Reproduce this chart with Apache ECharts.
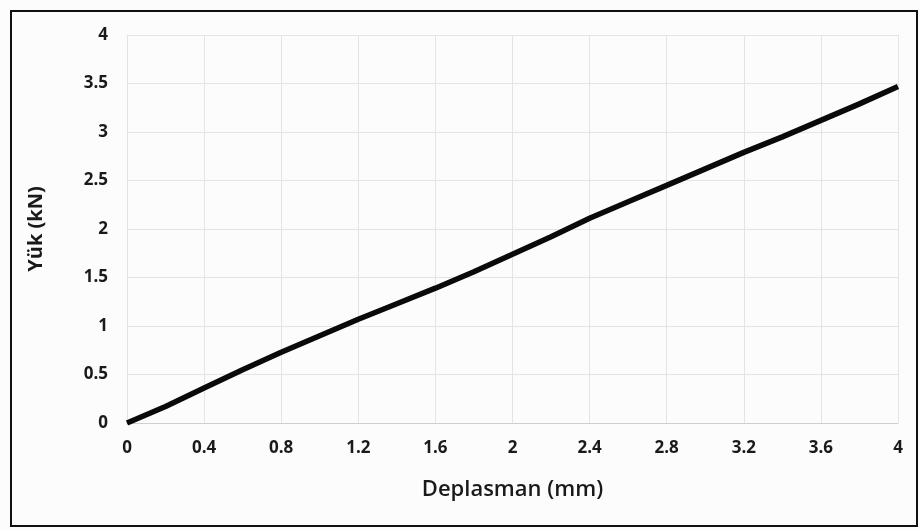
<!DOCTYPE html>
<html>
<head>
<meta charset="utf-8">
<script src="https://cdn.jsdelivr.net/npm/echarts@6/dist/echarts.min.js"></script>
<style>
  html, body { margin: 0; padding: 0; background: #fff; }
  #chart { width: 920px; height: 530px; }
</style>
</head>
<body>
<div id="chart"></div>
<script>
// displacement (mm) and load (kN)
const deplasman = [0, 0.2, 0.4, 0.6, 0.8, 1.0, 1.2, 1.4, 1.6, 1.8, 2.0, 2.2, 2.4, 2.6, 2.8, 3.0, 3.2, 3.4, 3.6, 3.8, 4.0]
const yuk = [0, 0.17, 0.36, 0.55, 0.73, 0.9, 1.07, 1.23, 1.39, 1.56, 1.74, 1.92, 2.11, 2.28, 2.45, 2.62, 2.79, 2.95, 3.12, 3.29, 3.47]

const chart = echarts.init(document.getElementById('chart'))
const labelFont = { color: '#1a1a1a', fontFamily: 'Open Sans', fontWeight: 'bold', fontSize: 17 }

chart.setOption({
  animation: false,
  backgroundColor: '#fcfcfc',
  graphic: [{
    type: 'rect',
    shape: { x: 11, y: 11, width: 906, height: 515 },
    style: { fill: 'none', stroke: '#111', lineWidth: 2 },
    silent: true,
  }],
  grid: { left: 127, right: 22, top: 35, bottom: 107 },
  xAxis: {
    type: 'value',
    min: 0,
    max: 4,
    interval: 0.4,
    name: 'Deplasman (mm)',
    nameLocation: 'middle',
    nameGap: 56,
    nameTextStyle: { color: '#1a1a1a', fontFamily: 'Open Sans', fontWeight: 600, fontSize: 22 },
    axisLine: { show: true, lineStyle: { color: '#cfcfcf', width: 1 } },
    axisTick: { show: false },
    axisLabel: Object.assign({ margin: 17 }, labelFont),
    splitLine: { show: true, lineStyle: { color: '#e4e4e4', width: 1 } },
  },
  yAxis: {
    type: 'value',
    min: 0,
    max: 4,
    interval: 0.5,
    name: 'Yük (kN)',
    nameLocation: 'middle',
    nameGap: 81,
    nameTextStyle: { color: '#1a1a1a', fontFamily: 'Open Sans', fontWeight: 'bold', fontSize: 20 },
    axisLine: { show: true, lineStyle: { color: '#e4e4e4' } },
    axisTick: { show: false },
    axisLabel: Object.assign({ margin: 19 }, labelFont),
    splitLine: { show: true, lineStyle: { color: '#e4e4e4', width: 1 } },
  },
  series: [{
    type: 'line',
    data: deplasman.map((d, i) => [d, yuk[i]]),
    showSymbol: false,
    lineStyle: { color: '#0a0a0a', width: 5.5 },
  }],
})
</script>
</body>
</html>
